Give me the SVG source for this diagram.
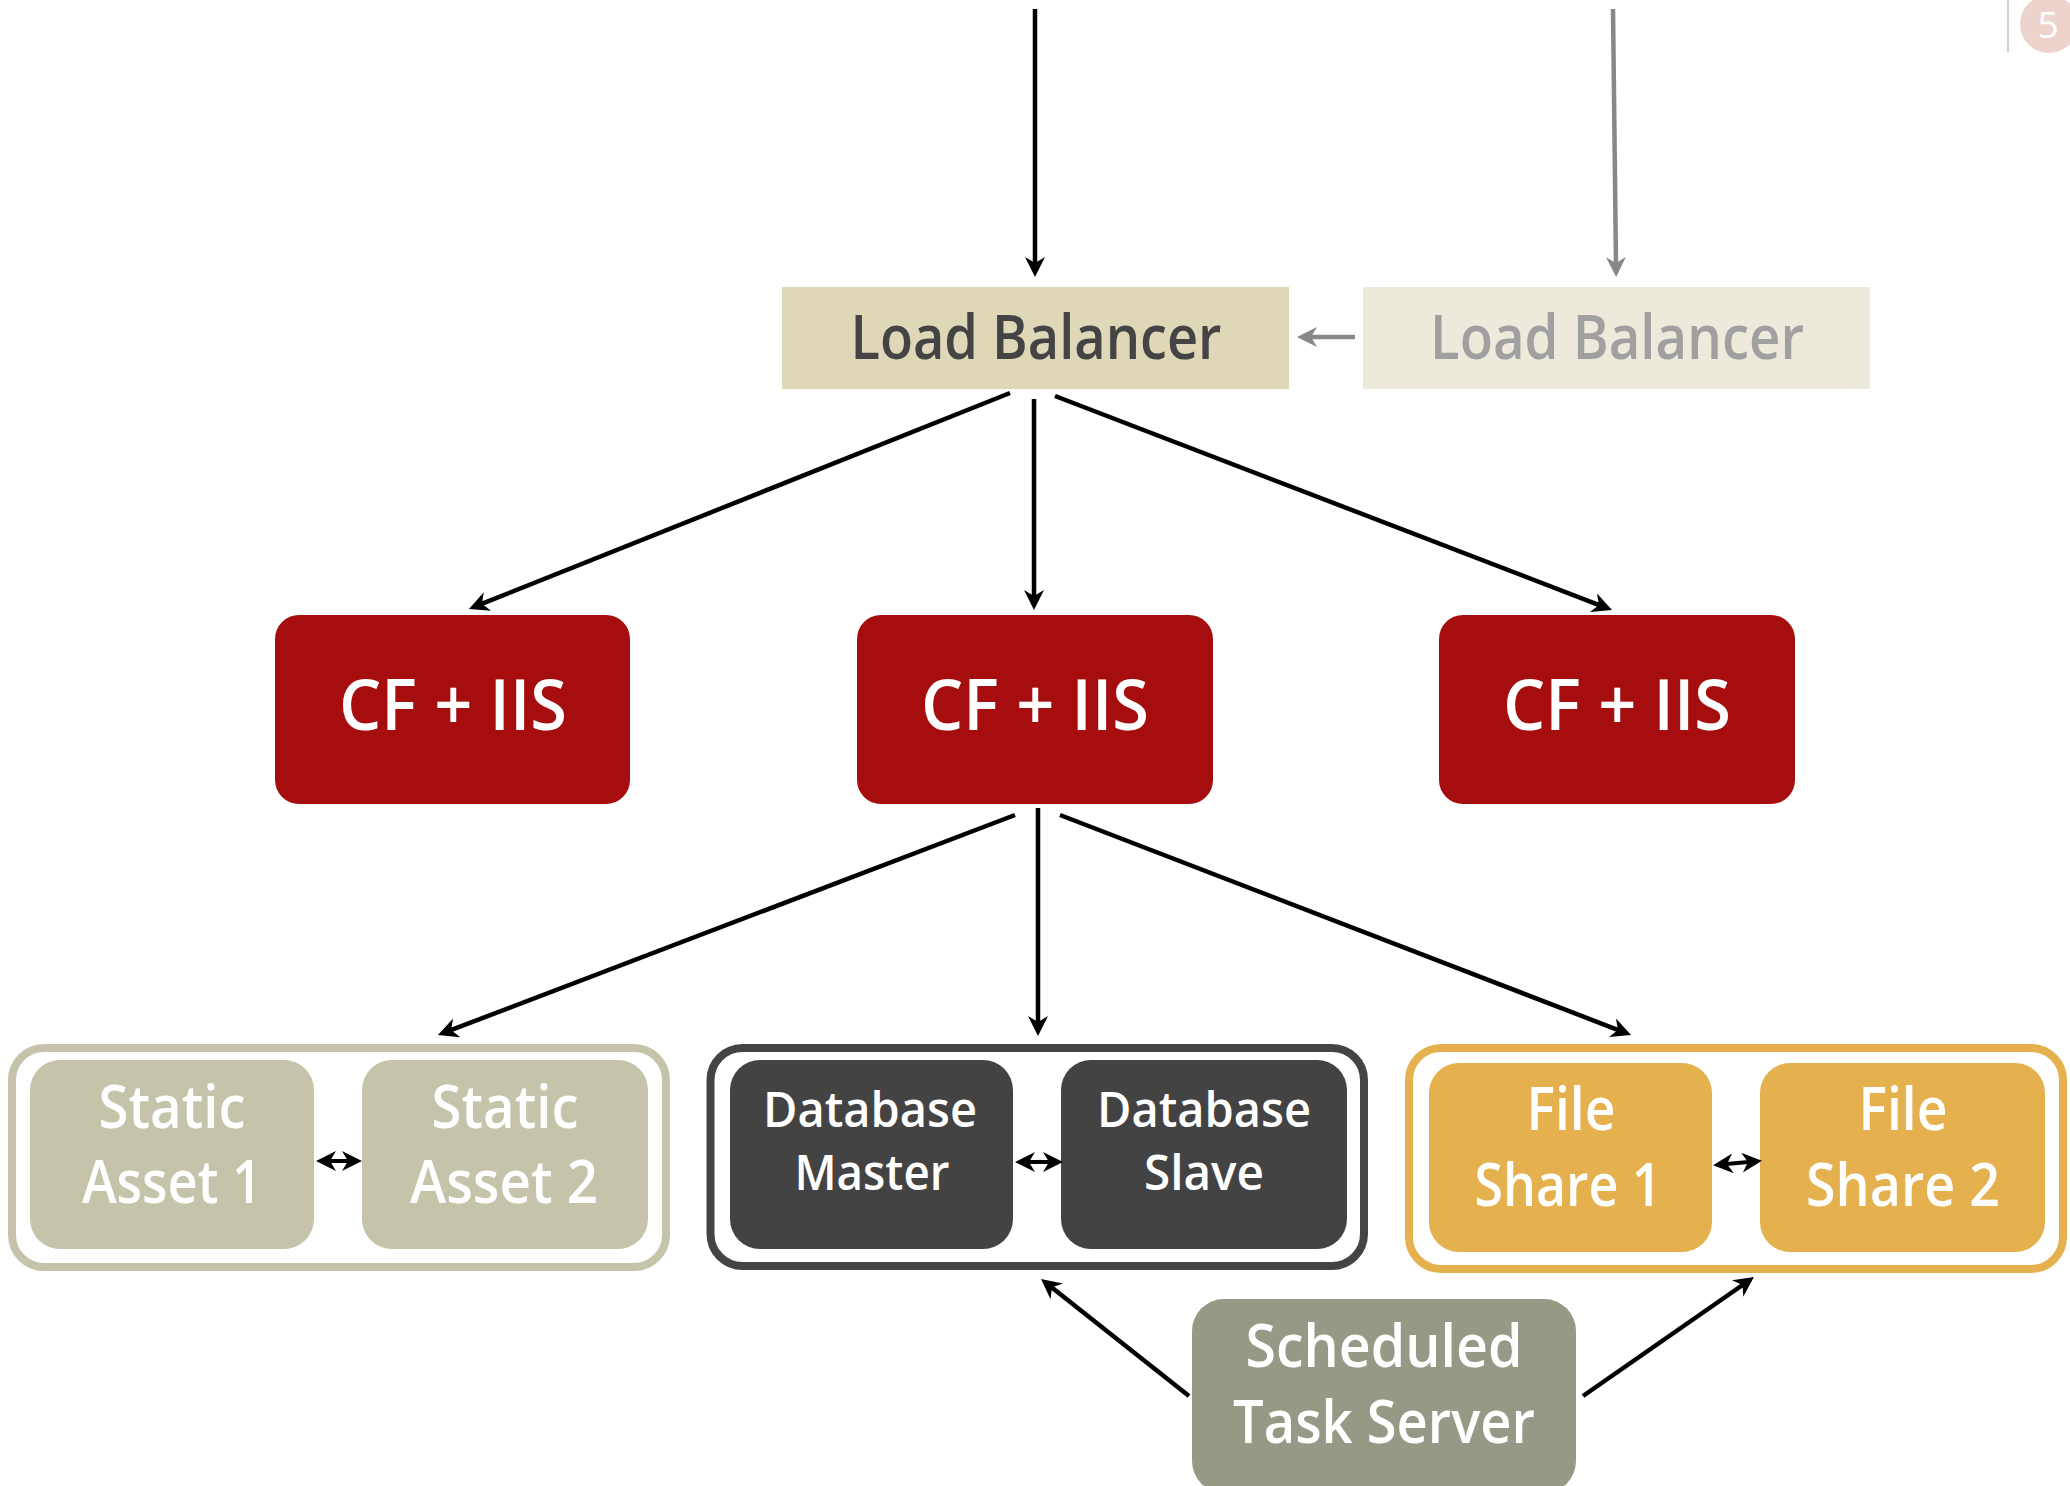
<svg xmlns="http://www.w3.org/2000/svg" width="2070" height="1486" viewBox="0 0 2070 1486">
<style>
text{font-family:"Open Sans","Noto Sans","Liberation Sans",sans-serif;font-weight:600;text-anchor:middle;fill:#ffffff}
.lb1{fill:#444444;font-size:61px}
.lb2{fill:#a0a0a0;font-size:61px}
.cf{font-size:71px}
.big{font-size:59px}
.db{font-size:48px}
.conn{stroke:#000;stroke-width:4.5;fill:none}
.gray{stroke:#888888;stroke-width:4.5;fill:none}
.dbl{stroke:#000;stroke-width:4;fill:none}
</style>
<defs>
<marker id="ah" viewBox="0 0 20 20" markerUnits="userSpaceOnUse" markerWidth="20" markerHeight="20" refX="7" refY="10" orient="auto-start-reverse">
<path d="M20,10 L0,0 L6,10 L0,20 Z" fill="#000"/>
</marker>
<marker id="ahg" viewBox="0 0 20 20" markerUnits="userSpaceOnUse" markerWidth="20" markerHeight="20" refX="7" refY="10" orient="auto-start-reverse">
<path d="M20,10 L0,0 L6,10 L0,20 Z" fill="#888888"/>
</marker>
</defs>
<rect width="2070" height="1486" fill="#ffffff"/>

<g id="page-badge">
<line x1="2008" y1="0" x2="2008" y2="52" stroke="#d0d0d0" stroke-width="2"/>
<circle cx="2049" cy="24" r="29" fill="#ecd4cd"/>
<text x="2048" y="38" style="font-size:37px;font-weight:400">5</text>
</g>

<g id="load-balancer-1">
<rect x="782" y="287" width="507" height="102" fill="#ded8b9"/>
<text class="lb1" x="1036" y="359" textLength="371" lengthAdjust="spacingAndGlyphs">Load Balancer</text>
</g>
<g id="load-balancer-2">
<rect x="1363" y="287" width="507" height="102" fill="#eeeadb"/>
<text class="lb2" x="1617" y="359" textLength="374" lengthAdjust="spacingAndGlyphs">Load Balancer</text>
</g>

<g id="cf-iis-1">
<rect x="275" y="615" width="355" height="189" rx="24" fill="#a50d0f"/>
<text class="cf" x="453" y="730" textLength="228" lengthAdjust="spacingAndGlyphs">CF + IIS</text>
</g>
<g id="cf-iis-2">
<rect x="857" y="615" width="356" height="189" rx="24" fill="#a50d0f"/>
<text class="cf" x="1035" y="730" textLength="228" lengthAdjust="spacingAndGlyphs">CF + IIS</text>
</g>
<g id="cf-iis-3">
<rect x="1439" y="615" width="356" height="189" rx="24" fill="#a50d0f"/>
<text class="cf" x="1617" y="730" textLength="228" lengthAdjust="spacingAndGlyphs">CF + IIS</text>
</g>

<g id="static-assets">
<rect x="12" y="1048" width="654" height="219" rx="32" fill="none" stroke="#c5c3a9" stroke-width="8"/>
<g id="static-asset-1">
<rect x="30" y="1060" width="284" height="189" rx="30" fill="#c5c3a9"/>
<text class="big" x="172" y="1128" textLength="147" lengthAdjust="spacingAndGlyphs">Static</text>
<text class="big" x="172" y="1203" textLength="180" lengthAdjust="spacingAndGlyphs">Asset 1</text>
</g>
<g id="static-asset-2">
<rect x="362" y="1060" width="286" height="189" rx="30" fill="#c5c3a9"/>
<text class="big" x="505" y="1128" textLength="147" lengthAdjust="spacingAndGlyphs">Static</text>
<text class="big" x="504" y="1203" textLength="188" lengthAdjust="spacingAndGlyphs">Asset 2</text>
</g>
</g>

<g id="databases">
<rect x="710.5" y="1048" width="653.5" height="218" rx="32" fill="none" stroke="#444444" stroke-width="8"/>
<g id="database-master">
<rect x="730" y="1060" width="283" height="189" rx="30" fill="#434343"/>
<text class="db" x="870" y="1127" textLength="214" lengthAdjust="spacingAndGlyphs">Database</text>
<text class="db" x="872" y="1190" textLength="155" lengthAdjust="spacingAndGlyphs">Master</text>
</g>
<g id="database-slave">
<rect x="1061" y="1060" width="286" height="189" rx="30" fill="#434343"/>
<text class="db" x="1204" y="1127" textLength="214" lengthAdjust="spacingAndGlyphs">Database</text>
<text class="db" x="1204" y="1190" textLength="120" lengthAdjust="spacingAndGlyphs">Slave</text>
</g>
</g>

<g id="file-shares">
<rect x="1409" y="1048" width="654" height="221" rx="32" fill="none" stroke="#e5b04e" stroke-width="8"/>
<g id="file-share-1">
<rect x="1429" y="1063" width="283" height="189" rx="30" fill="#e5b04e"/>
<text class="big" x="1571" y="1130" textLength="89" lengthAdjust="spacingAndGlyphs">File</text>
<text class="big" x="1568" y="1206" textLength="187" lengthAdjust="spacingAndGlyphs">Share 1</text>
</g>
<g id="file-share-2">
<rect x="1760" y="1063" width="285" height="189" rx="30" fill="#e5b04e"/>
<text class="big" x="1903" y="1130" textLength="89" lengthAdjust="spacingAndGlyphs">File</text>
<text class="big" x="1903" y="1206" textLength="194" lengthAdjust="spacingAndGlyphs">Share 2</text>
</g>
</g>

<g id="scheduled-task-server">
<rect x="1192" y="1299" width="384" height="194" rx="32" fill="#989886"/>
<text class="big" x="1384" y="1367" textLength="277" lengthAdjust="spacingAndGlyphs">Scheduled</text>
<text class="big" x="1384" y="1443" textLength="302" lengthAdjust="spacingAndGlyphs">Task Server</text>
</g>

<g id="connectors">
<line class="conn" x1="1035" y1="9" x2="1035" y2="264" marker-end="url(#ah)"/>
<line class="gray" x1="1613" y1="9" x2="1616" y2="264" marker-end="url(#ahg)"/>
<line class="gray" x1="1355" y1="337" x2="1310" y2="337" stroke-width="5" marker-end="url(#ahg)"/>

<line class="conn" x1="1010" y1="393" x2="481" y2="604.2" marker-end="url(#ah)"/>
<line class="conn" x1="1034" y1="399" x2="1034" y2="597" marker-end="url(#ah)"/>
<line class="conn" x1="1055" y1="396" x2="1599.9" y2="605.3" marker-end="url(#ah)"/>

<line class="conn" x1="1015" y1="815" x2="450.1" y2="1030.4" marker-end="url(#ah)"/>
<line class="conn" x1="1038" y1="808" x2="1038" y2="1023" marker-end="url(#ah)"/>
<line class="conn" x1="1060" y1="815" x2="1618.9" y2="1030.3" marker-end="url(#ah)"/>

<line class="conn" x1="1189" y1="1396" x2="1051.2" y2="1287" stroke-width="5" marker-end="url(#ah)"/>
<line class="conn" x1="1583" y1="1396" x2="1743.3" y2="1284.5" stroke-width="5" marker-end="url(#ah)"/>

<line class="dbl" x1="329" y1="1161" x2="349" y2="1161" marker-start="url(#ah)" marker-end="url(#ah)"/>
<line class="dbl" x1="1028" y1="1162" x2="1050" y2="1162" marker-start="url(#ah)" marker-end="url(#ah)"/>
<line class="dbl" x1="1726" y1="1164" x2="1749" y2="1162" marker-start="url(#ah)" marker-end="url(#ah)"/>
</g>
</svg>
